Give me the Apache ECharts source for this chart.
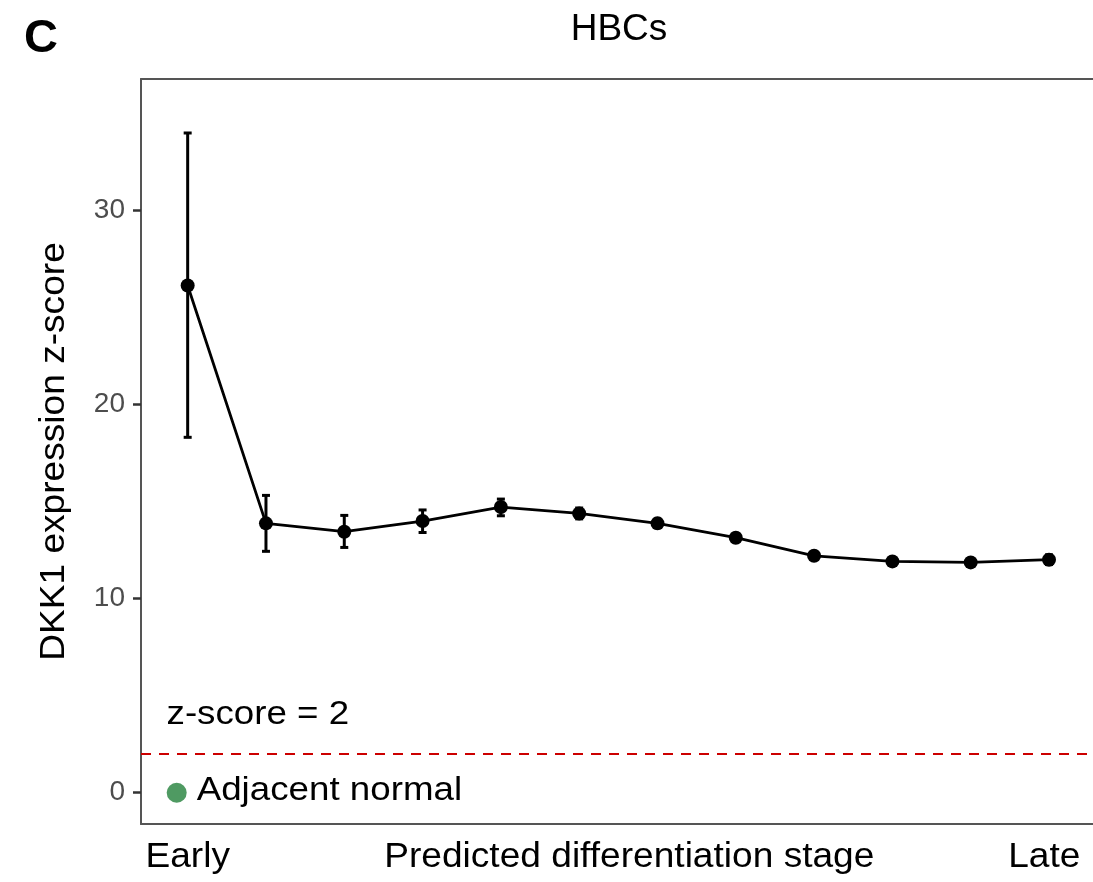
<!DOCTYPE html>
<html>
<head>
<meta charset="utf-8">
<script src="https://cdn.jsdelivr.net/npm/echarts@6/dist/echarts.min.js"></script>
<style>
  html, body { margin: 0; padding: 0; background: #fff; }
  #chart { width: 1093px; height: 882px; }
</style>
</head>
<body>
<div id="chart"></div>
<script>
// predicted differentiation stage (1 = early, 12 = late)
var stage = [1, 2, 3, 4, 5, 6, 7, 8, 9, 10, 11, 12];
var zMean = [26.12, 13.87, 13.44, 13.99, 14.71, 14.38, 13.87, 13.13, 12.20, 11.91, 11.86, 12.00];
var zLow  = [18.30, 12.43, 12.63, 13.40, 14.26, 14.10, 13.65, 12.93, 12.02, 11.73, 11.68, 11.75];
var zHigh = [33.97, 15.31, 14.28, 14.56, 15.12, 14.66, 14.09, 13.33, 12.38, 12.09, 12.04, 12.25];

var yTicks = [0, 10, 20, 30];
var threshold = 2;
var normalPoint = [0.86, 0];

var xLabels = ['Early', 'Predicted differentiation stage', 'Late'];
var xLabelAt = [1, 6.64, 11.94];

var FONT = "'Liberation Sans', Arial, sans-serif";
var STRETCH = 1.06;

var chart = echarts.init(document.getElementById('chart'));

var meanData = stage.map(function (s, i) { return [s, zMean[i]]; });
var barData = stage.map(function (s, i) { return [s, zLow[i], zHigh[i]]; });

var frameLine = { show: true, onZero: false, lineStyle: { color: '#555', width: 2 } };

chart.setOption({
	animation: false,
	grid: {
		left: 141,
		top: 79,
		bottom: 58,
		right: 0
	},
	xAxis: [
		{
			type: 'value',
			position: 'bottom',
			min: 0.404,
			max: 12.562,
			axisLine: frameLine,
			axisTick: { show: false },
			axisLabel: { show: false },
			splitLine: { show: false }
		},
		{
			type: 'value',
			position: 'top',
			min: 0.404,
			max: 12.562,
			axisLine: frameLine,
			axisTick: { show: false },
			axisLabel: { show: false },
			splitLine: { show: false }
		}
	],
	yAxis: {
		type: 'value',
		min: -1.61,
		max: 36.75,
		axisLine: { show: true, onZero: false, lineStyle: { color: '#555', width: 2 } },
		axisTick: {
			show: true,
			length: 8,
			customValues: yTicks,
			lineStyle: { color: '#333', width: 2.5 }
		},
		axisLabel: {
			customValues: yTicks,
			fontFamily: FONT,
			fontSize: 28,
			color: '#4d4d4d',
			margin: 16
		},
		splitLine: { show: false }
	},
	series: [
		{
			type: 'custom',
			name: 'error',
			data: barData,
			z: 2,
			renderItem: function (params, api) {
				var x = api.value(0);
				var lo = api.coord([x, api.value(1)]);
				var hi = api.coord([x, api.value(2)]);
				var cap = 4;
				var st = { stroke: '#000', lineWidth: 3 };
				return {
					type: 'group',
					children: [
						{ type: 'line', shape: { x1: lo[0], y1: lo[1], x2: hi[0], y2: hi[1] }, style: st },
						{ type: 'line', shape: { x1: lo[0] - cap, y1: lo[1], x2: lo[0] + cap, y2: lo[1] }, style: st },
						{ type: 'line', shape: { x1: hi[0] - cap, y1: hi[1], x2: hi[0] + cap, y2: hi[1] }, style: st }
					]
				};
			}
		},
		{
			type: 'line',
			name: 'mean',
			data: meanData,
			z: 3,
			symbol: 'circle',
			symbolSize: 14,
			itemStyle: { color: '#000' },
			lineStyle: { color: '#000', width: 2.8 },
			markLine: {
				silent: true,
				symbol: 'none',
				label: { show: false },
				lineStyle: { color: '#cc0000', type: [10, 8], width: 2 },
				data: [{ yAxis: threshold }]
			}
		},
		{
			type: 'scatter',
			name: 'Adjacent normal',
			data: [normalPoint],
			symbolSize: 20,
			itemStyle: { color: '#4f9a62', opacity: 1 }
		}
	]
});

function px(v) {
	return chart.convertToPixel({ gridIndex: 0 }, v);
}

function stretchedText(x, y, text, size, align, extra) {
	var el = {
		type: 'text',
		x: x,
		y: y,
		scaleX: STRETCH,
		style: {
			text: text,
			fontFamily: FONT,
			fontSize: size,
			fill: '#000',
			align: align,
			verticalAlign: 'middle'
		}
	};
	if (extra) { Object.assign(el, extra); }
	return el;
}

var gfx = [];
var labelY = 857;
xLabels.forEach(function (t, i) {
	gfx.push(stretchedText(px([xLabelAt[i], 0])[0], labelY, t, 35, 'center'));
});

var plotTop = px([0, 36.75])[1];
var plotBottom = px([0, -1.61])[1];
gfx.push(stretchedText(54, (plotTop + plotBottom) / 2, 'DKK1 expression z-score', 35, 'center', { rotation: Math.PI / 2 }));

var zPos = px([0.73, 4.0]);
gfx.push(stretchedText(zPos[0], zPos[1], 'z-score = ' + threshold, 34, 'left', { scaleX: 1.08 }));

var nPos = px(normalPoint);
gfx.push(stretchedText(nPos[0] + 20, nPos[1] - 2, 'Adjacent normal', 34, 'left', { scaleX: 1.08 }));

gfx.push(stretchedText(619, 30, 'HBCs', 37, 'center', { scaleX: 1 }));
gfx.push({
	type: 'text',
	x: 41,
	y: 39,
	style: {
		text: 'C',
		fontFamily: FONT,
		fontWeight: 'bold',
		fontSize: 47,
		fill: '#000',
		align: 'center',
		verticalAlign: 'middle'
	}
});

chart.setOption({ graphic: gfx });
</script>
</body>
</html>
